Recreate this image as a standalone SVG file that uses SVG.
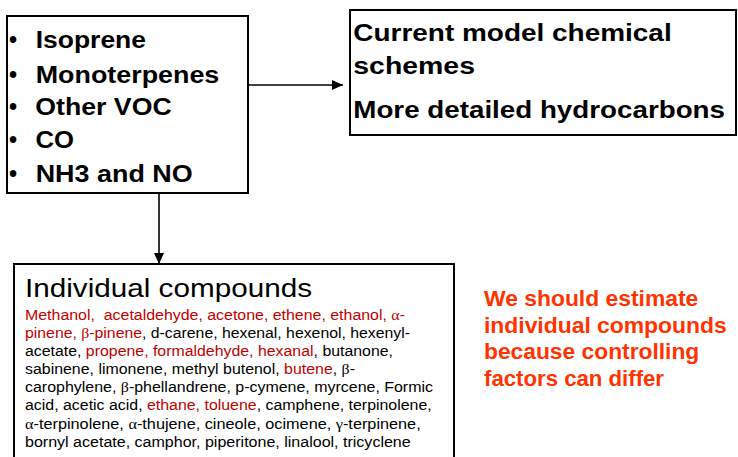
<svg xmlns="http://www.w3.org/2000/svg" width="738" height="457" viewBox="0 0 738 457">
<style>
.box{fill:#fff;stroke:#000;stroke-width:2}
.big{font-family:"Liberation Sans",Arial,sans-serif;font-size:23px;font-weight:bold;fill:#000}
.head{font-family:"Liberation Sans",Arial,sans-serif;font-size:25.5px;fill:#000}
.sm{font-family:"Liberation Sans",Arial,sans-serif;font-size:14px;fill:#000}
.r{fill:#C00000}
.g{font-family:"Liberation Serif","Times New Roman",serif}
.note{font-family:"Liberation Sans",Arial,sans-serif;font-size:22px;font-weight:bold;fill:#FF3300}
.conn{stroke:#000;stroke-width:1.6;fill:none}
</style>
<defs>
<marker id="ah" markerUnits="userSpaceOnUse" markerWidth="12" markerHeight="12" viewBox="0 0 12 12" refX="11" refY="6" orient="auto">
<path d="M0,1 L11,6 L0,11 Z" fill="#000"/>
</marker>
</defs>
<rect width="738" height="457" fill="#fff"/>
<g id="sources">
<rect class="box" x="7" y="16" width="241" height="177"/>
<text class="big" x="9" y="48">•</text><text class="big" x="35.7" y="48" textLength="110.3" lengthAdjust="spacingAndGlyphs">Isoprene</text>
<text class="big" x="9" y="82.7">•</text><text class="big" x="35.7" y="82.7" textLength="183.6" lengthAdjust="spacingAndGlyphs">Monoterpenes</text>
<text class="big" x="9" y="115">•</text><text class="big" x="35.3" y="115" textLength="136.4" lengthAdjust="spacingAndGlyphs">Other VOC</text>
<text class="big" x="9" y="147.5">•</text><text class="big" x="35.5" y="147.5" textLength="38.5" lengthAdjust="spacingAndGlyphs">CO</text>
<text class="big" x="9" y="182">•</text><text class="big" x="35.7" y="182" textLength="157" lengthAdjust="spacingAndGlyphs">NH3 and NO</text>
</g>
<g id="schemes">
<rect class="box" x="350" y="10" width="386" height="125"/>
<text class="big" x="353.3" y="40.7" textLength="318.4" lengthAdjust="spacingAndGlyphs">Current model chemical</text>
<text class="big" x="353.3" y="74" textLength="121.7" lengthAdjust="spacingAndGlyphs">schemes</text>
<text class="big" x="353.3" y="118.3" textLength="371.7" lengthAdjust="spacingAndGlyphs">More detailed hydrocarbons</text>
</g>
<g id="individual">
<rect class="box" x="14" y="264" width="440" height="210"/>
<text class="head" x="25" y="297" textLength="287" lengthAdjust="spacingAndGlyphs">Individual compounds</text>
<text class="sm r" x="25" y="320" textLength="380" lengthAdjust="spacingAndGlyphs" xml:space="preserve">Methanol,  acetaldehyde, acetone, ethene, ethanol, <tspan class="g">α</tspan>-</text>
<text class="sm" x="25" y="338" textLength="385" lengthAdjust="spacingAndGlyphs"><tspan class="r">pinene, <tspan class="g">β</tspan>-pinene</tspan>, d-carene, hexenal, hexenol, hexenyl-</text>
<text class="sm" x="25" y="356" textLength="368" lengthAdjust="spacingAndGlyphs">acetate, <tspan class="r">propene, formaldehyde, hexanal</tspan>, butanone,</text>
<text class="sm" x="25" y="374" textLength="330" lengthAdjust="spacingAndGlyphs">sabinene, limonene, methyl butenol, <tspan class="r">butene</tspan>, <tspan class="g">β</tspan>-</text>
<text class="sm" x="25" y="392" textLength="408" lengthAdjust="spacingAndGlyphs">carophylene, <tspan class="g">β</tspan>-phellandrene, p-cymene, myrcene, Formic</text>
<text class="sm" x="25" y="410.3" textLength="406.7" lengthAdjust="spacingAndGlyphs">acid, acetic acid, <tspan class="r">ethane, toluene</tspan>, camphene, terpinolene,</text>
<text class="sm" x="25" y="428.5" textLength="395.7" lengthAdjust="spacingAndGlyphs"><tspan class="g">α</tspan>-terpinolene, <tspan class="g">α</tspan>-thujene, cineole, ocimene, <tspan class="g">γ</tspan>-terpinene,</text>
<text class="sm" x="25" y="446.7" textLength="385.7" lengthAdjust="spacingAndGlyphs">bornyl acetate, camphor, piperitone, linalool, tricyclene</text>
</g>
<g id="note">
<text class="note" x="484" y="306" textLength="214.3" lengthAdjust="spacingAndGlyphs">We should estimate</text>
<text class="note" x="484" y="332.7" textLength="242.7" lengthAdjust="spacingAndGlyphs">individual compounds</text>
<text class="note" x="484" y="359.4" textLength="215.3" lengthAdjust="spacingAndGlyphs">because controlling</text>
<text class="note" x="484" y="386" textLength="180" lengthAdjust="spacingAndGlyphs">factors can differ</text>
</g>
<g id="connectors">
<line class="conn" x1="248" y1="85" x2="343" y2="85" marker-end="url(#ah)"/>
<line class="conn" x1="159" y1="193" x2="159" y2="264" marker-end="url(#ah)"/>
</g>
</svg>
